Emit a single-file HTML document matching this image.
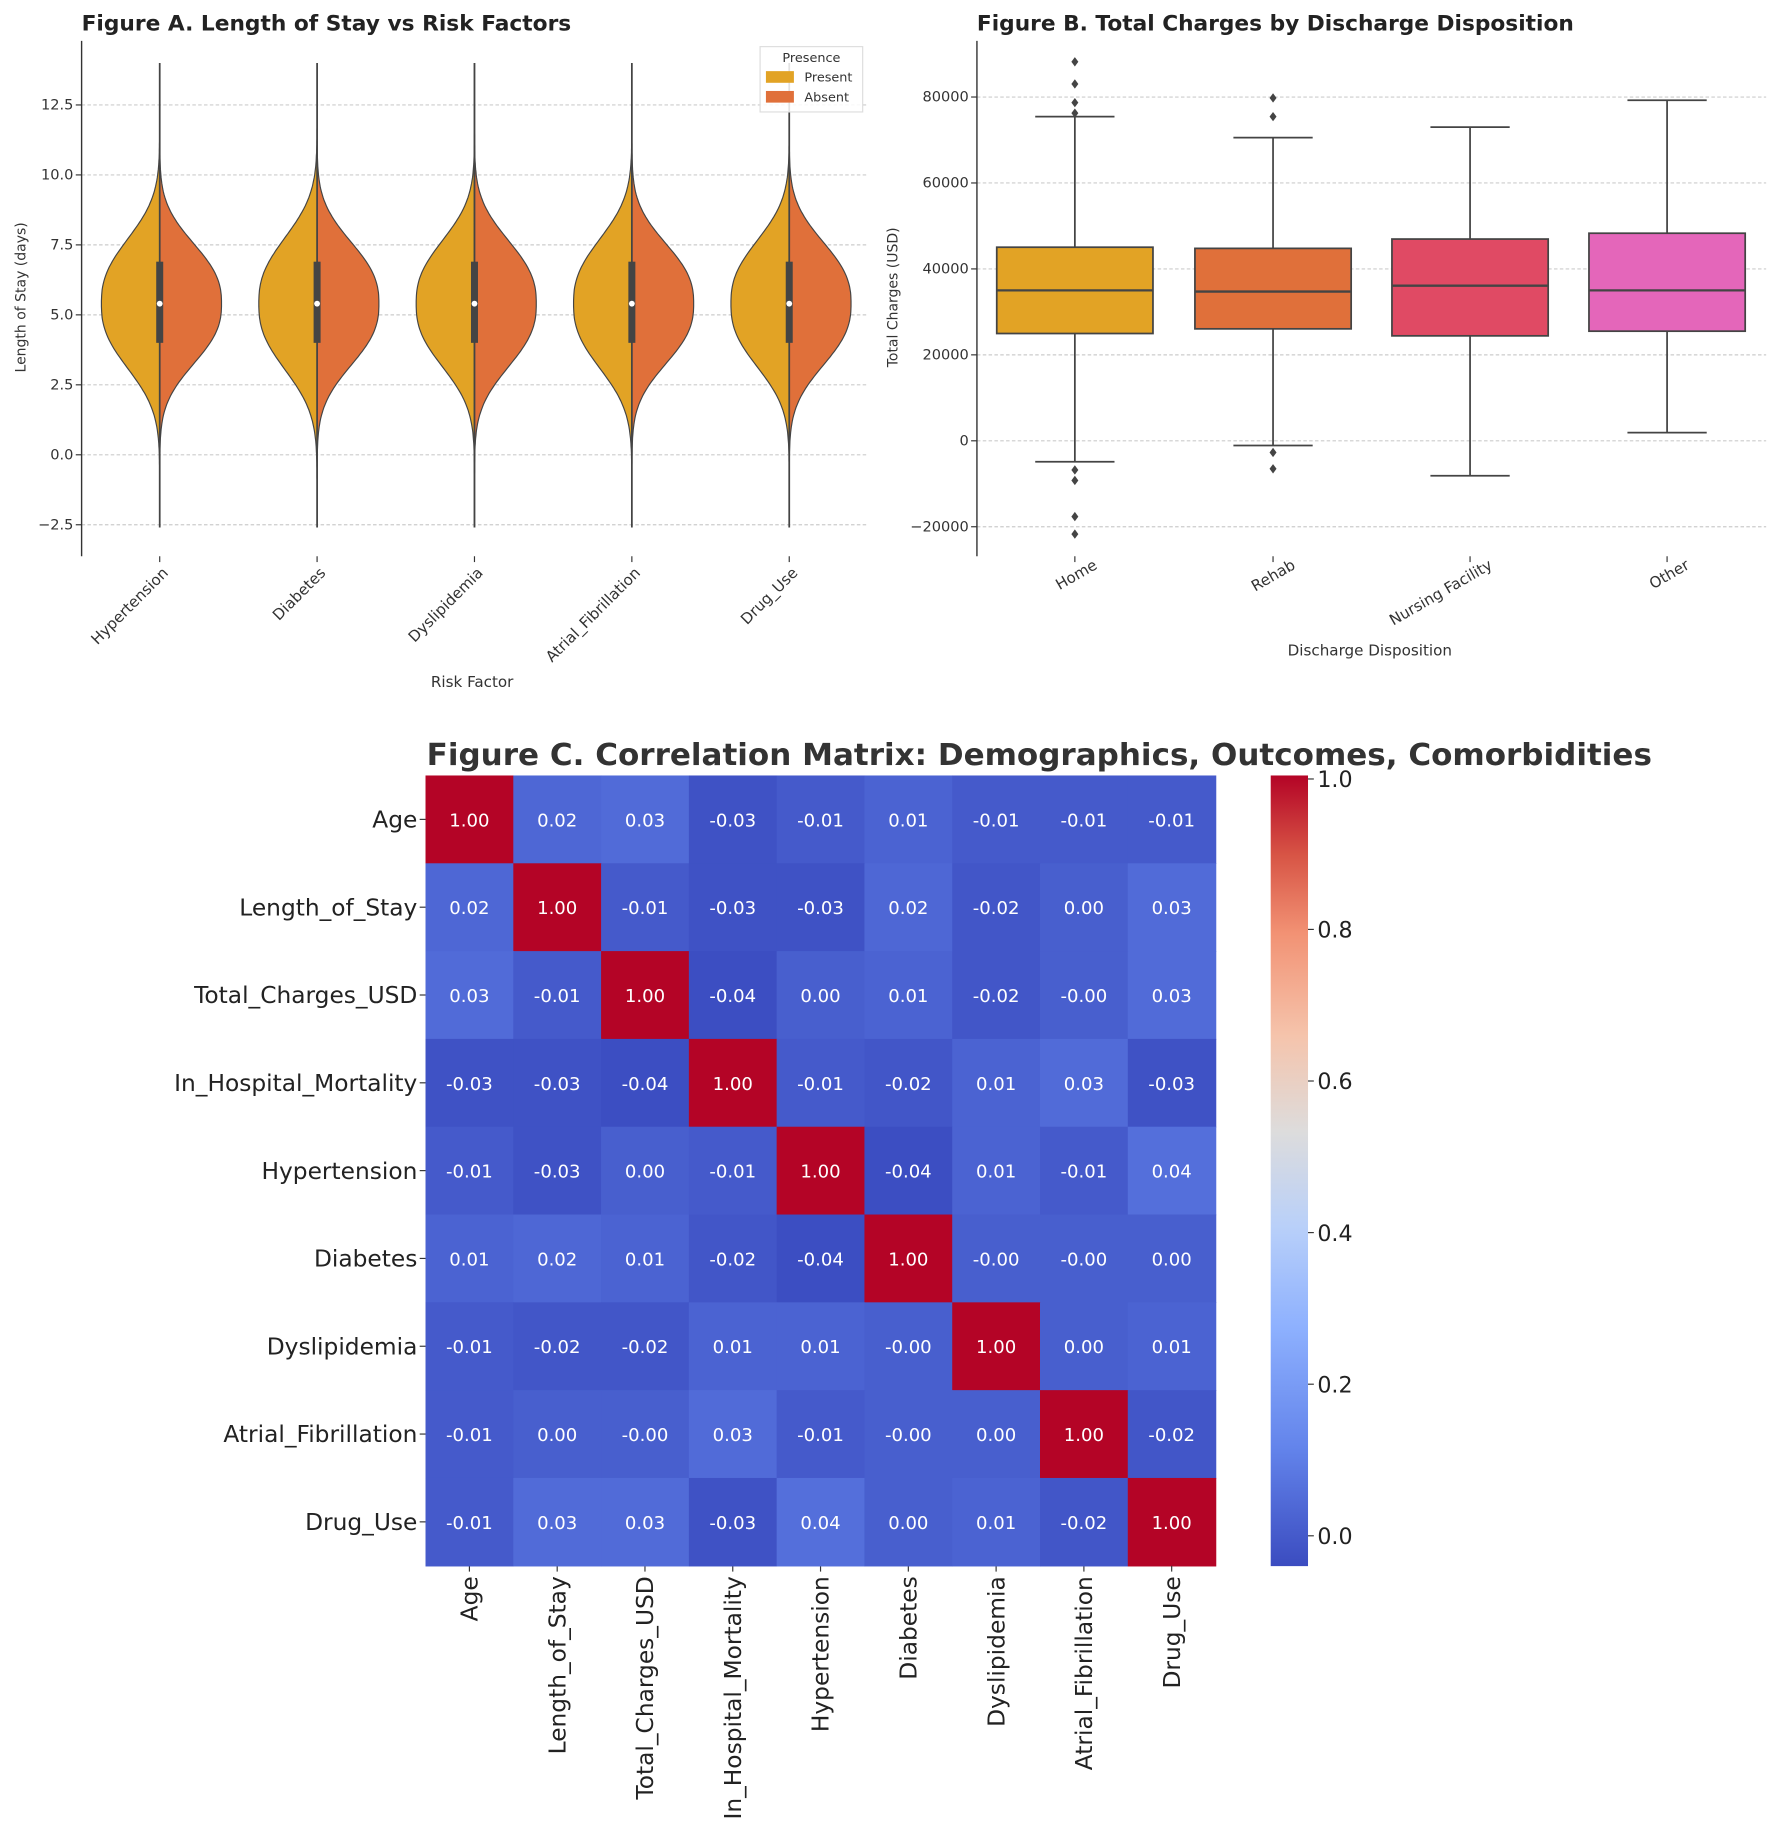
<!DOCTYPE html>
<html><head><meta charset="utf-8"><style>
html,body{margin:0;padding:0;background:#fff;}
svg{display:block;font-family:"DejaVu Sans","Liberation Sans",sans-serif;}
</style></head><body>
<svg id="s" width="1772" height="1825" viewBox="0 0 1520 1565" preserveAspectRatio="none" xmlns="http://www.w3.org/2000/svg"></svg>
<script>
var o=[];
function T(x,y,t,a){o.push('<text x="'+x+'" y="'+y+'" '+(a||'')+'>'+t+'</text>');}
function L(x1,y1,x2,y2,a){o.push('<line x1="'+x1+'" y1="'+y1+'" x2="'+x2+'" y2="'+y2+'" '+a+'/>');}
// ===== Figure A =====
T(70,26,'Figure A. Length of Stay vs Risk Factors','font-size="18" font-weight="bold" fill="#222" textLength="420" lengthAdjust="spacingAndGlyphs"');
function yA(v){return 390-24*v;}
[12.5,10,7.5,5,2.5,0,-2.5].forEach(function(v){var y=yA(v);
 L(70,y,745,y,'stroke="#ccc" stroke-width="1" stroke-dasharray="3,2"');
 L(65,y,70,y,'stroke="#333"');
 T(63,y+4,v.toFixed(1).replace('-','\u2212'),'font-size="12.5" fill="#333" text-anchor="end"');});
L(70,35,70,477,'stroke="#333" stroke-width="1.2"');
T(0,0,'Length of Stay (days)','font-size="12" fill="#333" text-anchor="middle" transform="translate(22,255) rotate(-90)"');
var cats=['Hypertension','Diabetes','Dyslipidemia','Atrial_Fibrillation','Drug_Use'];
var xs=[137,272,407,542,677];
function dens(v,s){var z=(v-5.4)/s;return Math.exp(-Math.pow(Math.abs(z),2.5)/2);}
xs.forEach(function(cx,i){
 var sl=[2.15,2.2,2.1,2.15,2.1][i],sr=[2.0,2.05,2.1,2.0,2.05][i];
 var wl=50,wr=53;
 var lp=[],rp=[];
 for(var v=14;v>=-2.6;v-=0.1){var y=yA(v);lp.push((cx-wl*dens(v,sl)).toFixed(1)+','+y.toFixed(1));rp.push((cx+wr*dens(v,sr)).toFixed(1)+','+y.toFixed(1));}
 o.push('<path d="M'+cx+','+yA(14)+' L'+lp.join(' L')+' L'+cx+','+yA(-2.6)+' Z" fill="#E2A325" stroke="#444" stroke-width="1"/>');
 o.push('<path d="M'+cx+','+yA(14)+' L'+rp.join(' L')+' L'+cx+','+yA(-2.6)+' Z" fill="#E0703A" stroke="#444" stroke-width="1"/>');
 L(cx,yA(14),cx,yA(-2.6),'stroke="#444" stroke-width="1.5"');
 o.push('<rect x="'+(cx-3)+'" y="'+yA(6.9)+'" width="6" height="'+(yA(4)-yA(6.9))+'" fill="#444"/>');
 o.push('<circle cx="'+cx+'" cy="'+yA(5.4)+'" r="2.5" fill="#fff"/>');
 L(cx,477,cx,482,'stroke="#333"');
 T(0,0,cats[i],'font-size="13" fill="#333" text-anchor="end" transform="translate('+(cx+8)+',492) rotate(-45)"');
});
o.push('<rect x="652" y="40" width="88" height="56" fill="#fff" fill-opacity="0.85" stroke="#ddd"/>');
T(696,53,'Presence','font-size="11" fill="#333" text-anchor="middle"');
o.push('<rect x="657" y="61" width="24" height="10" fill="#E2A325"/><rect x="657" y="78" width="24" height="10" fill="#E0703A"/>');
T(690,70,'Present','font-size="11" fill="#333"');T(690,87,'Absent','font-size="11" fill="#333"');
T(405,589,'Risk Factor','font-size="13" fill="#333" text-anchor="middle"');
// ===== Figure B =====
T(838,26,'Figure B. Total Charges by Discharge Disposition','font-size="18" font-weight="bold" fill="#222" textLength="512" lengthAdjust="spacingAndGlyphs"');
function yB(v){return 378-v*0.003685;}
[80000,60000,40000,20000,0,-20000].forEach(function(v){var y=yB(v);
 L(838,y,1515,y,'stroke="#ccc" stroke-width="1" stroke-dasharray="3,2"');
 L(833,y,838,y,'stroke="#333"');
 T(831,y+4,String(v).replace('-','\u2212'),'font-size="12.5" fill="#333" text-anchor="end"');});
L(838,35,838,477,'stroke="#333" stroke-width="1.2"');
T(0,0,'Total Charges (USD)','font-size="12" fill="#333" text-anchor="middle" transform="translate(770,255) rotate(-90)"');
var bx=[
 {c:922,n:'Home',col:'#E2A325',q3:212,q1:286,m:249,t:100,b:396,out:[53,72,88,97,403,412,443,458]},
 {c:1092,n:'Rehab',col:'#E0703A',q3:213,q1:282,m:250,t:118,b:382,out:[84,100,388,402]},
 {c:1261,n:'Nursing Facility',col:'#E04A64',q3:205,q1:288,m:245,t:109,b:408,out:[]},
 {c:1430,n:'Other',col:'#E466BA',q3:200,q1:284,m:249,t:86,b:371,out:[]}];
bx.forEach(function(d){
 L(d.c,d.t,d.c,d.q3,'stroke="#444" stroke-width="1.5"');L(d.c,d.q1,d.c,d.b,'stroke="#444" stroke-width="1.5"');
 L(d.c-34,d.t,d.c+34,d.t,'stroke="#444" stroke-width="1.5"');L(d.c-34,d.b,d.c+34,d.b,'stroke="#444" stroke-width="1.5"');
 o.push('<rect x="'+(d.c-67)+'" y="'+d.q3+'" width="134" height="'+(d.q1-d.q3)+'" fill="'+d.col+'" stroke="#444" stroke-width="1.5"/>');
 L(d.c-67,d.m,d.c+67,d.m,'stroke="#444" stroke-width="2"');
 d.out.forEach(function(y){o.push('<path d="M'+d.c+','+(y-4)+' L'+(d.c+3)+','+y+' L'+d.c+','+(y+4)+' L'+(d.c-3)+','+y+'Z" fill="#444"/>');});
 L(d.c,477,d.c,482,'stroke="#333"');
 T(0,0,d.n,'font-size="13" fill="#333" text-anchor="end" transform="translate('+(d.c+20)+',487) rotate(-30)"');
});
T(1175,562,'Discharge Disposition','font-size="13" fill="#333" text-anchor="middle"');
// ===== Figure C =====
T(366,656,'Figure C. Correlation Matrix: Demographics, Outcomes, Comorbidities','font-size="26" font-weight="bold" fill="#333" textLength="1051" lengthAdjust="spacingAndGlyphs"');
var names=['Age','Length_of_Stay','Total_Charges_USD','In_Hospital_Mortality','Hypertension','Diabetes','Dyslipidemia','Atrial_Fibrillation','Drug_Use'];
var M=[
[1,.02,.03,-.03,-.01,.01,-.01,-.01,-.01],
[.02,1,-.01,-.03,-.03,.02,-.02,0,.03],
[.03,-.01,1,-.04,0,.01,-.02,-0.0001,.03],
[-.03,-.03,-.04,1,-.01,-.02,.01,.03,-.03],
[-.01,-.03,0,-.01,1,-.04,.01,-.01,.04],
[.01,.02,.01,-.02,-.04,1,-0.0001,-0.0001,0],
[-.01,-.02,-.02,.01,.01,-0.0001,1,0,.01],
[-.01,0,-0.0001,.03,-.01,-0.0001,0,1,-.02],
[-.01,.03,.03,-.03,.04,0,.01,-.02,1]];
function col(v){if(v>0.5)return '#b40426';var t=(v+0.045)/1.045;var r=59+39*t/0.125,g=76+54*t/0.125,b=192+42*t/0.125;return 'rgb('+Math.round(r)+','+Math.round(g)+','+Math.round(b)+')';}
var X0=365,Y0=665,cs=75.3;
for(var i=0;i<9;i++){for(var j=0;j<9;j++){var v=M[i][j];
 o.push('<rect x="'+(X0+j*cs)+'" y="'+(Y0+i*cs)+'" width="'+(cs+0.6)+'" height="'+(cs+0.6)+'" fill="'+col(v)+'"/>');
 var s=v>0.5?'1.00':(v<0?'-'+Math.abs(v).toFixed(2):v.toFixed(2));
 T(X0+j*cs+cs/2,Y0+i*cs+cs/2+6,s,'font-size="15.5" fill="#fff" text-anchor="middle"');}
 var yc=Y0+i*cs+cs/2;
 L(X0-5,yc,X0,yc,'stroke="#333"');
 T(X0-7,yc+7,names[i],'font-size="20" fill="#222" text-anchor="end"');
 var xc=X0+i*cs+cs/2;
 L(xc,Y0+9*cs,xc,Y0+9*cs+5,'stroke="#333"');
 T(0,0,names[i],'font-size="20" fill="#222" text-anchor="end" transform="translate('+(xc+7)+','+(Y0+9*cs+9)+') rotate(-90)"');
}
o.push('<defs><linearGradient id="g" x1="0" y1="1" x2="0" y2="0">'+
'<stop offset="0" stop-color="#3b4cc0"/><stop offset="0.15" stop-color="#6384eb"/><stop offset="0.3" stop-color="#8db0fe"/><stop offset="0.43" stop-color="#b9d0f9"/><stop offset="0.55" stop-color="#dddcdc"/><stop offset="0.67" stop-color="#f5c4ac"/><stop offset="0.8" stop-color="#f29274"/><stop offset="0.9" stop-color="#d75445"/><stop offset="1" stop-color="#b40426"/></linearGradient></defs>');
o.push('<rect x="1090" y="665" width="32" height="678" fill="url(#g)"/>');
[[1,668],[0.8,797],[0.6,927],[0.4,1057],[0.2,1187],[0,1317]].forEach(function(p){
 L(1122,p[1],1127,p[1],'stroke="#333"');T(1130,p[1]+7,p[0].toFixed(1),'font-size="19" fill="#222"');});
document.getElementById('s').innerHTML=o.join('');
</script>
</body></html>
